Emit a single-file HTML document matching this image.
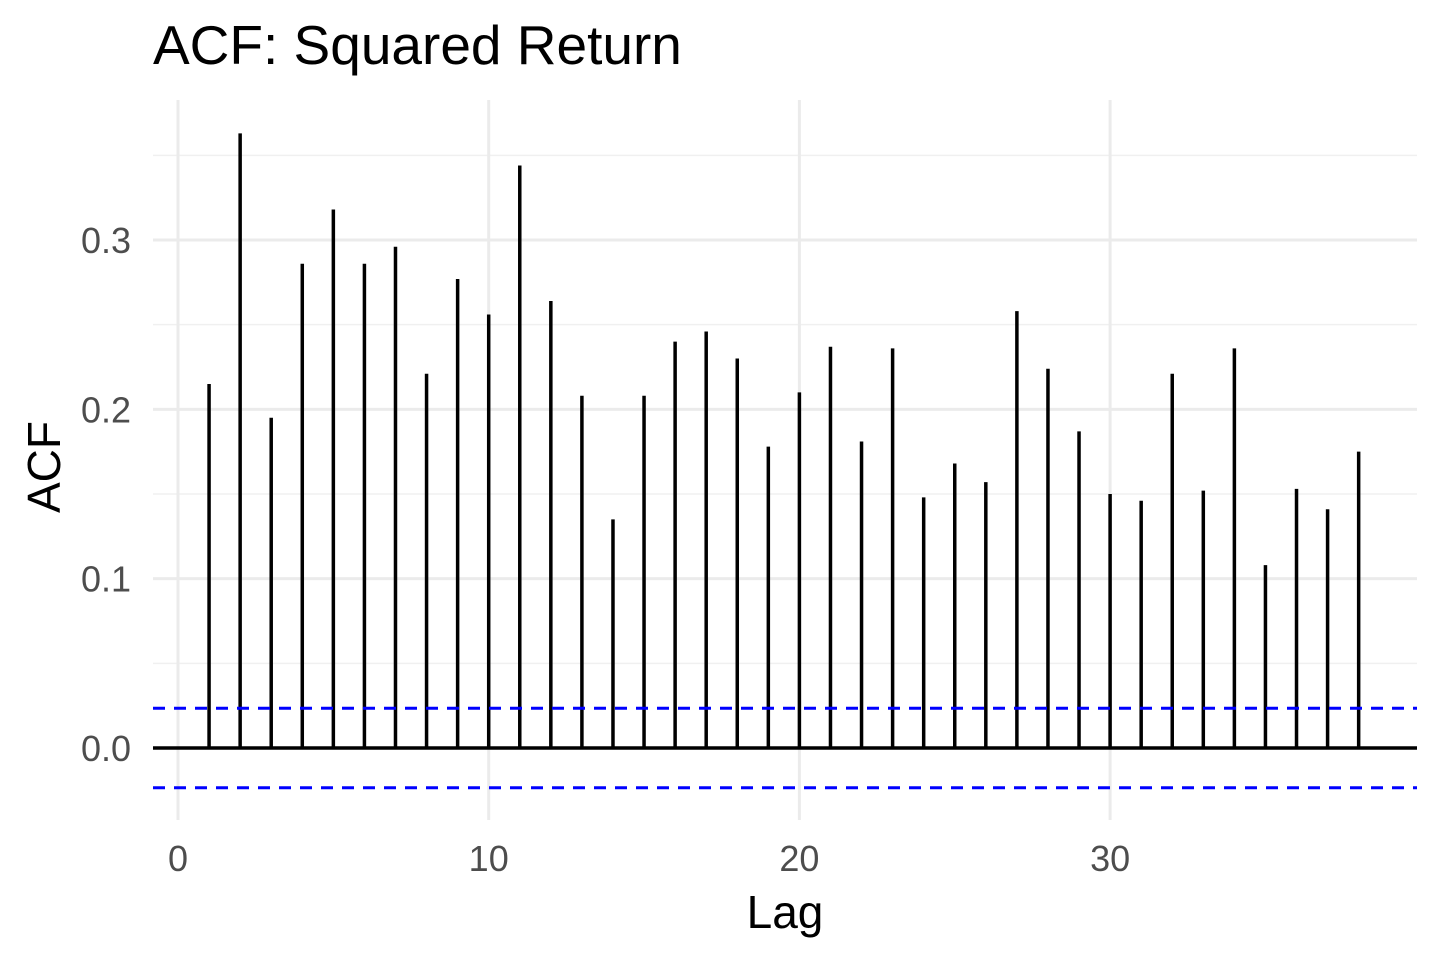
<!DOCTYPE html>
<html><head><meta charset="utf-8"><style>
html,body{margin:0;padding:0;background:#fff;}
svg{display:block;font-family:"Liberation Sans",Arial,sans-serif;}
</style></head><body>
<svg id="chart" width="1440" height="960"></svg>
<script>
const lags=[1,2,3,4,5,6,7,8,9,10,11,12,13,14,15,16,17,18,19,20,21,22,23,24,25,26,27,28,29,30,31,32,33,34,35,36,37,38];
const acfValues=[0.215,0.363,0.195,0.286,0.318,0.286,0.296,0.221,0.277,0.256,0.344,0.264,0.208,0.135,0.208,0.240,0.246,0.230,0.178,0.210,0.237,0.181,0.236,0.148,0.168,0.157,0.258,0.224,0.187,0.150,0.146,0.221,0.152,0.236,0.108,0.153,0.141,0.175];
const ciBound=[0.0235];
const yTicks=[0,0.1,0.2,0.3];
const yMinor=[0.05,0.15,0.25,0.35];
const xTicks=[0,10,20,30];
const NS='http://www.w3.org/2000/svg';
const svg=document.getElementById('chart');
const X=v=>178+v*31.07;
const Y=v=>748-v*1693.3;
function mk(tag,attrs,parent){const e=document.createElementNS(NS,tag);for(const k in attrs)e.setAttribute(k,attrs[k]);(parent||svg).appendChild(e);return e;}
const L=153,R=1417,T=100,B=820;
yMinor.forEach(v=>{const l=mk('line',{x1:L,x2:R,y1:Y(v),y2:Y(v),stroke:'#f0f0f0','stroke-width':1.5});

});
yTicks.forEach(v=>{const l=mk('line',{x1:L,x2:R,y1:Y(v),y2:Y(v),stroke:'#ebebeb','stroke-width':3});


const t=mk('text',{x:131,y:Y(v)+13,'text-anchor':'end','font-size':36,fill:'#4d4d4d'});t.textContent=v.toFixed(1);

});
xTicks.forEach(v=>{const l=mk('line',{x1:X(v),x2:X(v),y1:T,y2:B,stroke:'#ebebeb','stroke-width':3});


const t=mk('text',{x:X(v),y:871,'text-anchor':'middle','font-size':36,fill:'#4d4d4d'});t.textContent=v;

});
lags.forEach((lag,i)=>{const l=mk('line',{x1:X(lag),x2:X(lag),y1:Y(0),y2:Y(acfValues[i]),stroke:'#000','stroke-width':3.5});

});
const z=mk('line',{x1:L,x2:R,y1:Y(0),y2:Y(0),stroke:'#000','stroke-width':3.5});


[ciBound[0],-ciBound[0]].forEach(v=>{const l=mk('line',{x1:L,x2:R,y1:Y(v),y2:Y(v),stroke:'#0000ff','stroke-width':3,'stroke-dasharray':'12,9'});

});
const title=mk('text',{x:153,y:64,'font-size':55,fill:'#000'});title.textContent='ACF: Squared Return';


const xt=mk('text',{x:785,y:928,'text-anchor':'middle','font-size':46,fill:'#000'});xt.textContent='Lag';


const yt=mk('text',{x:0,y:0,'text-anchor':'middle','font-size':46,fill:'#000',transform:'translate(60,467) rotate(-90)'});yt.textContent='ACF';


</script>
</body></html>
